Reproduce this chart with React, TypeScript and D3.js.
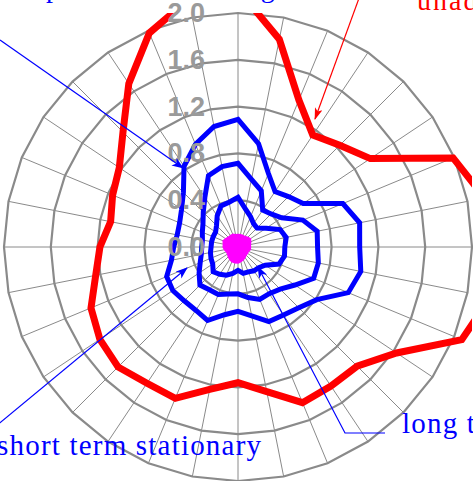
import React from 'react';
import * as d3 from 'd3';

// Angular categories (degrees, counter-clockwise from east)
const angles = [0, 11.25, 22.5, 33.75, 45, 56.25, 67.5, 78.75, 90, 101.25, 112.5, 123.75, 135, 146.25, 157.5, 168.75,
  180, 191.25, 202.5, 213.75, 225, 236.25, 247.5, 258.75, 270, 281.25, 292.5, 303.75, 315, 326.25, 337.5, 348.75];

const radialTicks = [0.0, 0.4, 0.8, 1.2, 1.6, 2.0];
const tickLabels = ['0.0', '0.4', '0.8', '1.2', '1.6', '2.0'];

const unadjusted = [2.3, 2.15, 1.99, 1.36, 1.23, 1.15, 1.36, 1.81, 2.2, 2.16, 1.98, 1.68, 1.39, 1.22, 1.16, 1.11,
  1.18, 1.24, 1.36, 1.42, 1.45, 1.40, 1.40, 1.24, 1.16, 1.26, 1.44, 1.43, 1.44, 1.63, 2.07, 2.2];
const outerBlue = [1.04, 1.06, 0.97, 0.67, 0.61, 0.57, 0.68, 0.90, 1.09, 1.05, 0.95, 0.83, 0.66, 0.58, 0.54, 0.53,
  0.55, 0.58, 0.66, 0.67, 0.65, 0.65, 0.68, 0.59, 0.55, 0.60, 0.69, 0.70, 0.735, 0.81, 1.02, 1.07];
const shortTermStationary = [0.68, 0.69, 0.60, 0.45, 0.40, 0.38, 0.52, 0.59, 0.715, 0.70, 0.66, 0.51, 0.42, 0.36, 0.33, 0.31,
  0.31, 0.32, 0.35, 0.40, 0.46, 0.44, 0.44, 0.41, 0.40, 0.44, 0.485, 0.48, 0.51, 0.585, 0.70, 0.70];
const longTerm = [0.40, 0.42, 0.39, 0.29, 0.23, 0.24, 0.28, 0.33, 0.425, 0.39, 0.38, 0.32, 0.26, 0.23, 0.23, 0.23,
  0.23, 0.24, 0.25, 0.26, 0.30, 0.28, 0.26, 0.23, 0.20, 0.23, 0.23, 0.245, 0.25, 0.28, 0.38, 0.405];
const residual = [0.10, 0.10, 0.11, 0.12, 0.11, 0.10, 0.10, 0.10, 0.10, 0.10, 0.11, 0.11, 0.11, 0.12, 0.13, 0.12,
  0.12, 0.11, 0.10, 0.10, 0.11, 0.12, 0.13, 0.13, 0.13, 0.12, 0.11, 0.10, 0.09, 0.09, 0.09, 0.10];

export default function App() {
  const W = 473, H = 481;
  const cx = 238, cy = 247, R = 234;
  const r = d3.scaleLinear().domain([0, 2]).range([0, R]);
  const toRad = (deg: number) => ((90 - deg) * Math.PI) / 180;
  const radial = d3.lineRadial<[number, number]>()
    .angle(d => toRad(d[0]))
    .radius(d => r(d[1]))
    .curve(d3.curveLinearClosed);
  const seriesPath = (vals: number[]) => radial(angles.map((a, i) => [a, vals[i]] as [number, number])) || '';
  const ringPath = (t: number) => radial(angles.map(a => [a, t] as [number, number])) || '';

  const grey = '#8a8a8a';
  const serif = '"Liberation Serif", "Times New Roman", serif';

  return (
    <svg width={W} height={H} style={{ position: 'absolute', left: 0, top: 0, background: '#fff' }}>
      <defs>
        <clipPath id="plotClip">
          <rect x={cx - R} y={cy - R} width={2 * R} height={2 * R} />
        </clipPath>
        <marker id="blueArrow" markerUnits="userSpaceOnUse" markerWidth="14" markerHeight="10" refX="11" refY="4.5" orient="auto">
          <path d="M0,0 L12,4.5 L0,9 L3,4.5 Z" fill="#0000ff" />
        </marker>
        <marker id="redArrow" markerUnits="userSpaceOnUse" markerWidth="14" markerHeight="10" refX="11" refY="4" orient="auto">
          <path d="M0,0 L12,4 L0,8 L3,4 Z" fill="#ff0000" />
        </marker>
      </defs>

      <g transform={`translate(${cx},${cy})`}>
        {angles.map((a, i) => {
          const [x, y] = d3.pointRadial(toRad(a), r(2.0));
          return <line key={'s' + i} x1={0} y1={0} x2={x} y2={y} stroke={grey} strokeWidth={1} />;
        })}
        {radialTicks.filter(t => t > 0).map((t, i) => (
          <path key={'r' + i} d={ringPath(t)} fill="none" stroke={grey} strokeWidth={2.2} />
        ))}
      </g>

      <g clipPath="url(#plotClip)">
        <g transform={`translate(${cx},${cy})`}>
          <path d={seriesPath(unadjusted)} fill="none" stroke="#ff0000" strokeWidth={7} strokeLinejoin="miter" />
          <path d={seriesPath(outerBlue)} fill="none" stroke="#0000ff" strokeWidth={5} />
          <path d={seriesPath(shortTermStationary)} fill="none" stroke="#0000ff" strokeWidth={5} />
          <path d={seriesPath(longTerm)} fill="none" stroke="#0000ff" strokeWidth={5} />
          <path d={seriesPath(residual)} fill="#ff00ff" stroke="#ff00ff" strokeWidth={3} />
        </g>
      </g>

      {radialTicks.map((t, i) => (
        <text key={'l' + i} x={cx - 33} y={cy - r(t)} textAnchor="end" dominantBaseline="central"
          fontFamily='"Liberation Sans", Arial, sans-serif' fontWeight="bold" fontSize={27} fill="#9a9a9a">
          {tickLabels[i]}
        </text>
      ))}

      {/* annotations */}
      <line x1={0} y1={40} x2={183} y2={168} stroke="#0000ff" strokeWidth={1.2} markerEnd="url(#blueArrow)" />
      <text x={46} y={-3} fontFamily={serif} fontSize={28} letterSpacing={1.8} fill="#0000ff">partial detrending</text>

      <line x1={362} y1={-10} x2={315} y2={119} stroke="#ff0000" strokeWidth={1.2} markerEnd="url(#redArrow)" />
      <text x={417} y={9.5} fontFamily={serif} fontSize={28} letterSpacing={2} fill="#ff0000">unadjusted</text>

      <line x1={-10} y1={431} x2={187} y2={268} stroke="#0000ff" strokeWidth={1.2} markerEnd="url(#blueArrow)" />
      <text x={-3} y={455} fontFamily={serif} fontSize={29} letterSpacing={1.2} fill="#0000ff">short term stationary</text>

      <path d="M385,433 H345 L258,267" fill="none" stroke="#0000ff" strokeWidth={1.2} markerEnd="url(#blueArrow)" />
      <text x={402} y={433} fontFamily={serif} fontSize={29} letterSpacing={1.2} fill="#0000ff">long term</text>
    </svg>
  );
}
